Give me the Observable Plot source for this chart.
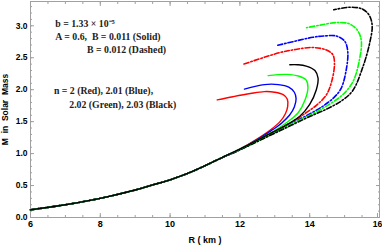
<!DOCTYPE html>
<html><head><meta charset="utf-8">
<script src="https://cdn.jsdelivr.net/npm/d3@7"></script>
<script src="https://cdn.jsdelivr.net/npm/@observablehq/plot@0.6"></script>
<style>body{margin:0;background:#fff}</style>
</head><body><div id="chart"></div>
<script>
// shared lower branch (R in km, M in solar masses)
const lowR = [6, 7, 8, 9, 9.5, 10, 10.5, 11, 11.5];
const lowM = [0.12, 0.20, 0.30, 0.43, 0.51, 0.59, 0.69, 0.81, 0.94];

const nValues = ["2", "2.01", "2.02", "2.03"];
const colors = ["#ff0000", "#0000ff", "#00ff00", "#000000"];

// B = 0.011 (solid)
const solidR = [
  [12.0, 12.5, 12.9, 13.15, 13.3, 13.37, 13.36, 13.25, 13.0, 12.7, 12.3, 11.8, 11.35],
  [12.0, 12.5, 12.9, 13.2, 13.42, 13.56, 13.61, 13.56, 13.4, 13.1, 12.7, 12.13],
  [12.0, 12.5, 13.0, 13.35, 13.67, 13.86, 13.95, 13.9, 13.7, 13.33, 12.81],
  [12.0, 12.5, 13.0, 13.4, 13.71, 14.0, 14.19, 14.24, 14.15, 13.9, 13.65, 13.43]
];
const solidM = [
  [1.07, 1.23, 1.38, 1.50, 1.62, 1.74, 1.85, 1.92, 1.96, 1.97, 1.94, 1.89, 1.84],
  [1.07, 1.22, 1.36, 1.48, 1.60, 1.73, 1.86, 1.96, 2.04, 2.08, 2.08, 2.01],
  [1.07, 1.21, 1.36, 1.49, 1.64, 1.83, 2.03, 2.15, 2.21, 2.24, 2.22],
  [1.07, 1.21, 1.35, 1.47, 1.58, 1.77, 2.00, 2.18, 2.30, 2.37, 2.39, 2.39]
];
// B = 0.012 (dashed)
const dashedR = [
  [12.0, 12.5, 13.0, 13.5, 13.9, 14.2, 14.48, 14.64, 14.71, 14.66, 14.48, 14.09, 13.6, 13.14, 12.11],
  [12.0, 12.5, 13.0, 13.5, 14.0, 14.4, 14.7, 14.9, 15.05, 15.09, 15.0, 14.76, 14.4, 14.09, 13.05],
  [12.0, 12.5, 13.0, 13.5, 14.0, 14.5, 14.9, 15.1, 15.27, 15.43, 15.48, 15.38, 15.14, 14.76, 14.3, 13.91],
  [12.0, 12.5, 13.0, 13.5, 14.0, 14.5, 14.95, 15.24, 15.52, 15.71, 15.79, 15.71, 15.52, 15.14, 14.69]
];
const dashedM = [
  [1.06, 1.20, 1.35, 1.50, 1.64, 1.76, 1.92, 2.15, 2.42, 2.55, 2.62, 2.66, 2.63, 2.58, 2.40],
  [1.06, 1.20, 1.34, 1.48, 1.62, 1.75, 1.88, 2.02, 2.32, 2.60, 2.76, 2.84, 2.84, 2.82, 2.69],
  [1.06, 1.19, 1.33, 1.47, 1.60, 1.75, 1.90, 2.01, 2.16, 2.48, 2.76, 2.92, 3.03, 3.05, 3.01, 2.97],
  [1.06, 1.19, 1.32, 1.45, 1.58, 1.70, 1.84, 1.99, 2.35, 2.71, 3.00, 3.16, 3.26, 3.29, 3.25]
];

const xMajor = [6, 8, 10, 12, 14, 16];
const xMinor = d3.range(6, 16.01, 0.5);
const yMajor = [0, 0.5, 1, 1.5, 2, 2.5, 3];
const yMinor = d3.range(0, 3.39, 0.1);

const noteText = ["b = 1.33 × 10⁻⁵", "A = 0.6,  B = 0.011 (Solid)", "B = 0.012 (Dashed)",
                  "n = 2 (Red), 2.01 (Blue),", "2.02 (Green), 2.03 (Black)"];
const noteR = [6.71, 6.71, 7.62, 6.67, 7.11];
const noteM = [3.03, 2.83, 2.62, 1.98, 1.77];

function build(Rs, Ms, style) {
  const rows = [];
  Rs.forEach((rArr, i) => {
    const R = lowR.concat(rArr), M = lowM.concat(Ms[i]);
    R.forEach((r, j) => rows.push({R: r, M: M[j], n: nValues[i], color: colors[i], style}));
  });
  return rows;
}
const solidData = build(solidR, solidM, "solid");
const dashedData = build(dashedR, dashedM, "dashed");
const notes = noteText.map((t, i) => ({t, R: noteR[i], M: noteM[i]}));

const gray = "#a0a0a0";
const chart = Plot.plot({
  width: 382, height: 245,
  marginLeft: 30, marginRight: 3, marginTop: 1, marginBottom: 28,
  x: {domain: [6, 16]},
  y: {domain: [0, 3.38]},
  style: {fontFamily: "'Liberation Sans', Arial, sans-serif", fontSize: "8.5px", fontWeight: "bold", background: "#fff"},
  marks: [
    Plot.frame({stroke: gray}),
    Plot.axisX({anchor: "bottom", ticks: xMinor, tickSize: -2, tickFormat: () => "", stroke: gray, label: null}),
    Plot.axisX({anchor: "bottom", ticks: xMajor.slice(0, -1), tickSize: -4, tickPadding: 7, tickFormat: d => String(d), stroke: gray, fill: "#000",
      label: "R ( km )", labelAnchor: "center", labelArrow: "none", labelOffset: 25, fontSize: 9}),
    Plot.axisX({anchor: "bottom", ticks: xMajor.slice(-1), tickSize: -4, tickPadding: 7, tickFormat: d => String(d), stroke: gray, fill: "#000", dx: -2, label: null}),
    Plot.axisX({anchor: "top", ticks: xMinor, tickSize: -2, tickFormat: () => "", stroke: gray, label: null}),
    Plot.axisX({anchor: "top", ticks: xMajor, tickSize: -4, tickFormat: () => "", stroke: gray, label: null}),
    Plot.axisY({anchor: "left", ticks: yMinor, tickSize: -2, tickFormat: () => "", stroke: gray, label: null}),
    Plot.axisY({anchor: "left", ticks: yMajor, tickSize: -4, tickPadding: 7, tickFormat: d3.format(".1f"), stroke: gray, fill: "#000",
      label: "M  in  Solar  Mass", labelAnchor: "center", labelArrow: "none", labelOffset: 29}),
    Plot.axisY({anchor: "right", ticks: yMinor, tickSize: -2, tickFormat: () => "", stroke: gray, label: null}),
    Plot.axisY({anchor: "right", ticks: yMajor, tickSize: -4, tickFormat: () => "", stroke: gray, label: null}),
    Plot.line(dashedData, {x: "R", y: "M", z: "n", stroke: "color", strokeWidth: 1.6, strokeDasharray: "5,2,1.5,2", curve: "catmull-rom"}),
    Plot.line(solidData, {x: "R", y: "M", z: "n", stroke: "color", strokeWidth: 1.4, curve: "catmull-rom"}),
    Plot.text(notes, {x: "R", y: "M", text: "t", textAnchor: "start", fontFamily: "'Liberation Serif', 'Times New Roman', serif",
      fontSize: 9.8, fontWeight: "bold", fill: "#222"})
  ]
});
document.getElementById("chart").appendChild(chart);
</script>
</body></html>
